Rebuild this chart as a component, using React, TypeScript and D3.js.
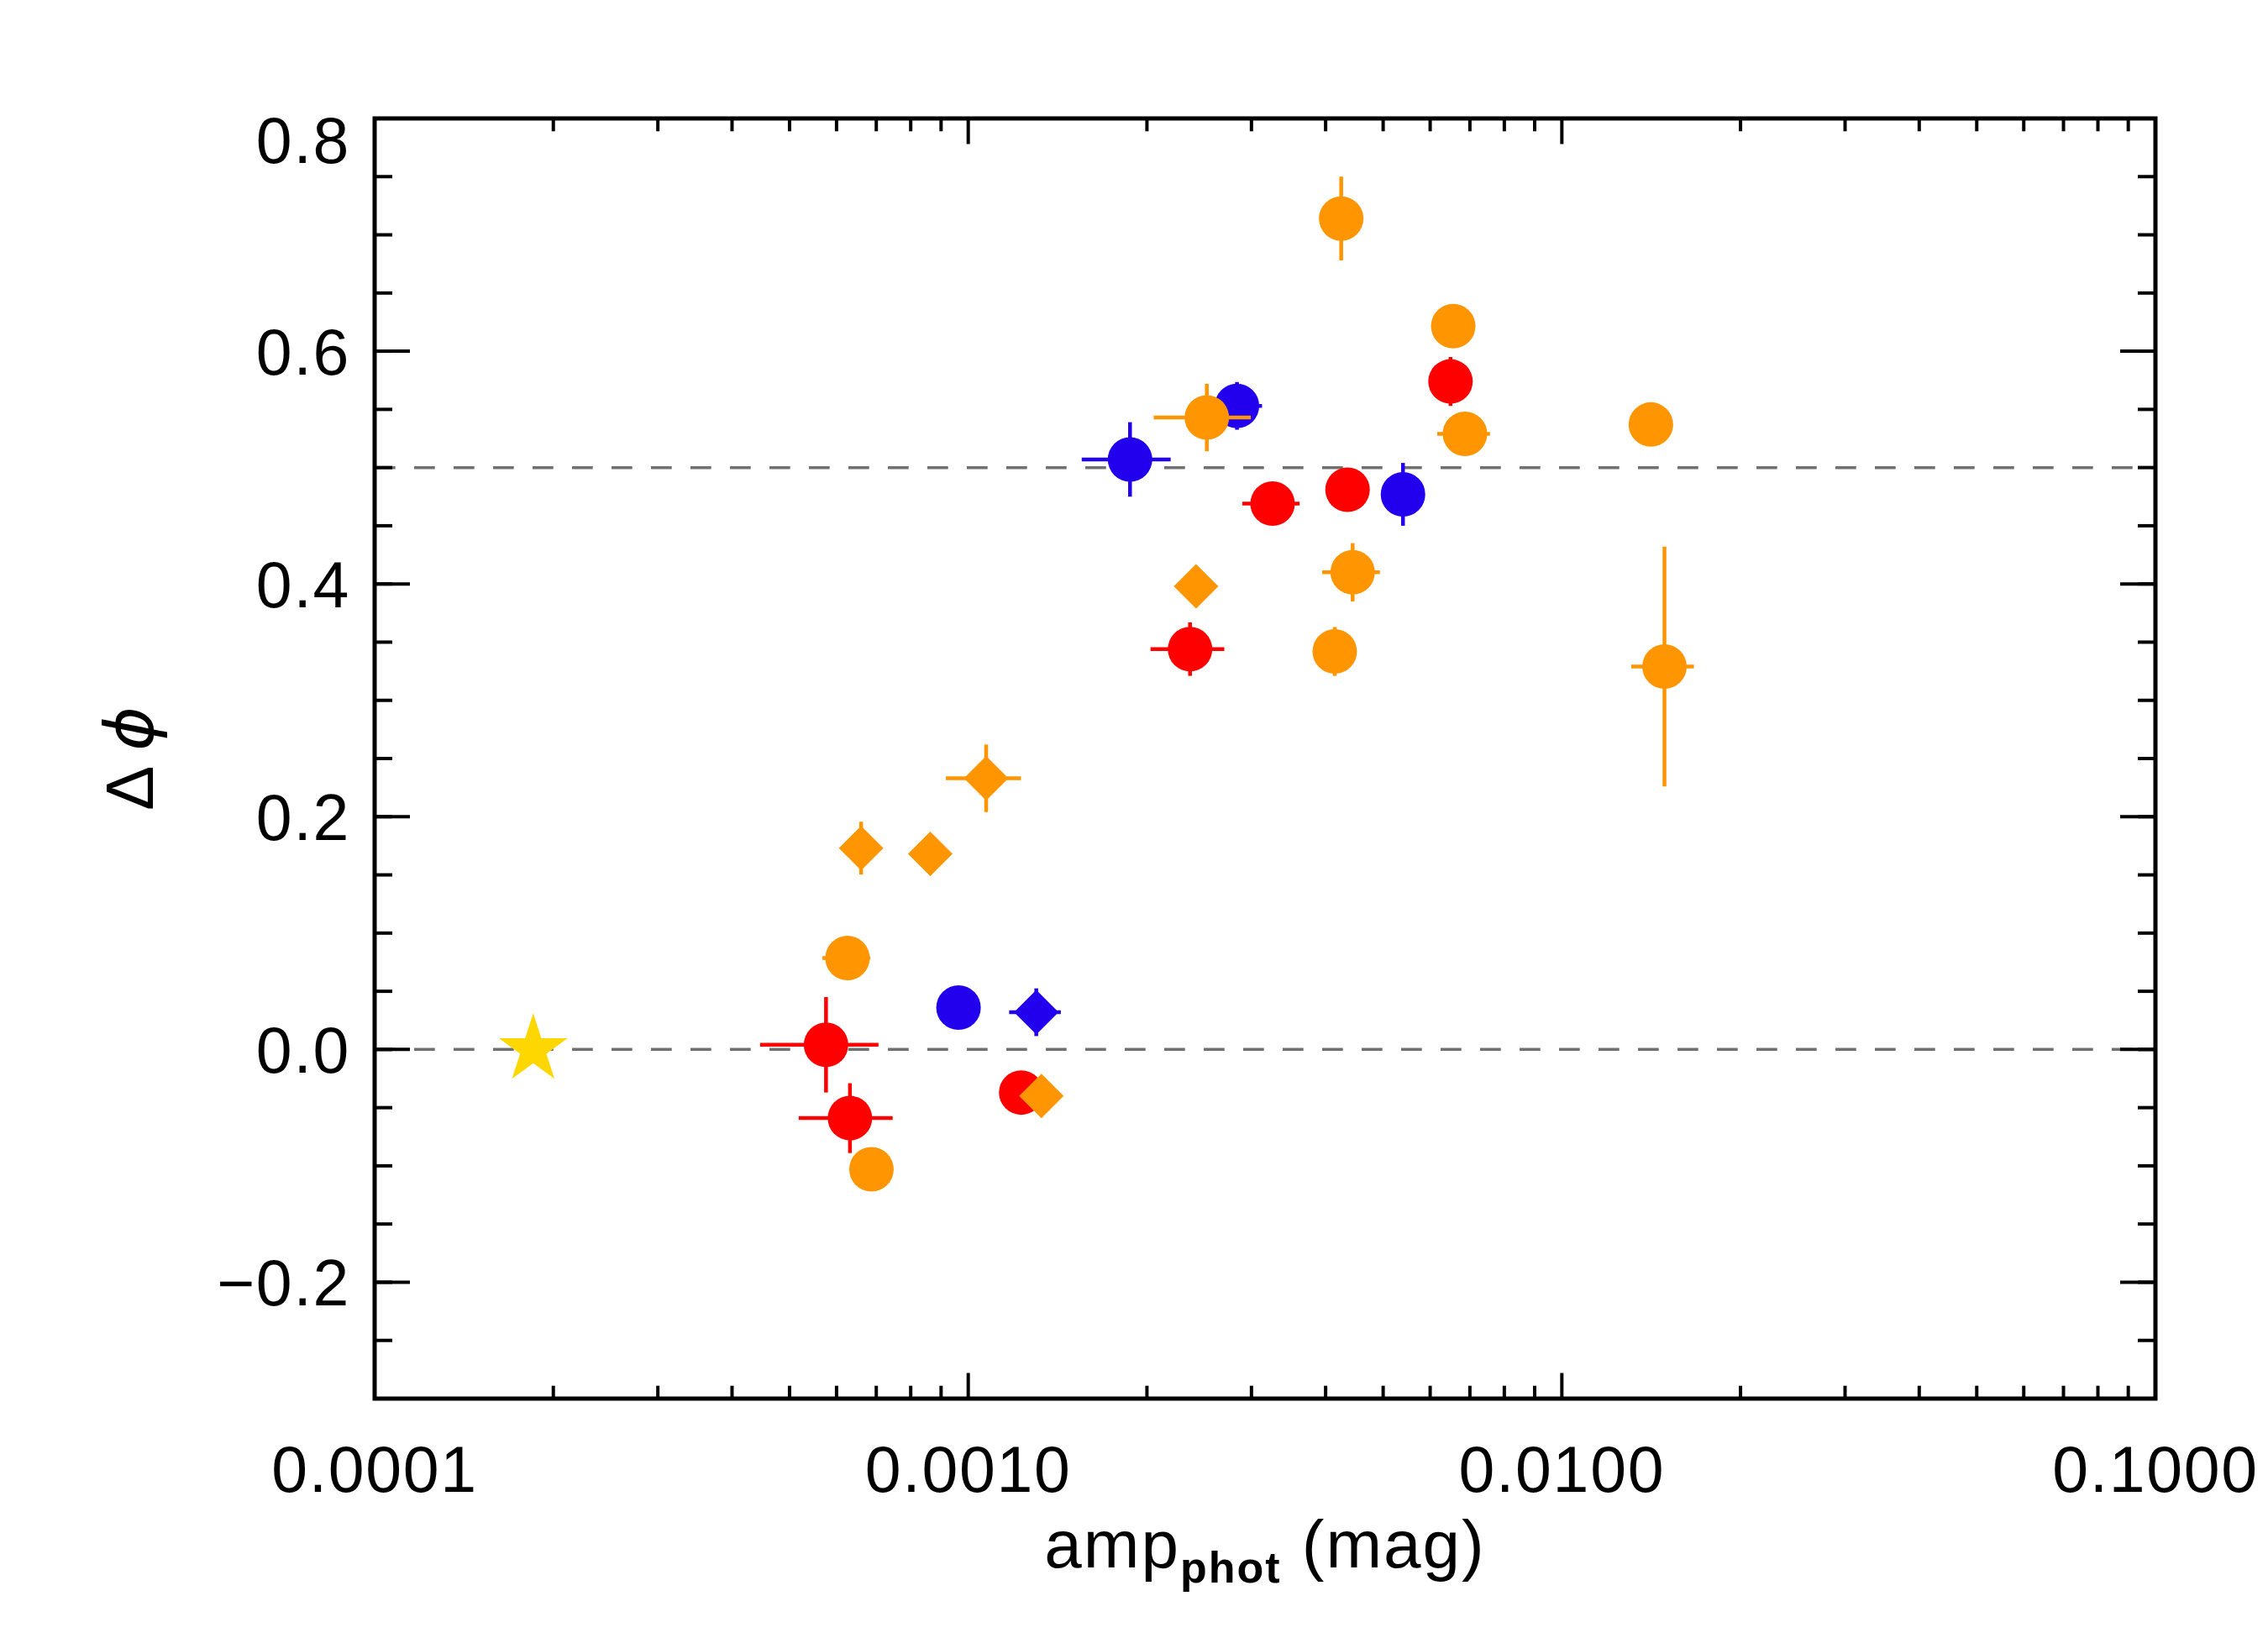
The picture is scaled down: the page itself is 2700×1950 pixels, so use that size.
import React from "react";
import * as d3 from "d3";

const W = 2700;
const H = 1950;
const PLOT = { left: 446, right: 2566, top: 141, bottom: 1665 };

const xDomain = [0.0001, 0.1];
const yDomain = [-0.3, 0.8];
const xTickValues = [0.0001, 0.001, 0.01, 0.1];
const xTickLabels = ["0.0001", "0.0010", "0.0100", "0.1000"];
const yTickValues = [-0.2, 0.0, 0.2, 0.4, 0.6, 0.8];
const yTickLabels = ["\u22120.2", "0.0", "0.2", "0.4", "0.6", "0.8"];
const refLines = [0.0, 0.5];

// each row: [x, y, xerr, yerr]
const redCircles = [
  [5.76e-4, 0.004, 1.3e-4, 0.041],
  [6.32e-4, -0.059, 1.14e-4, 0.03],
  [1.228e-3, -0.037, 0, 0],
  [2.364e-3, 0.344, 0.336e-3, 0.023],
  [3.256e-3, 0.469, 0.36e-3, 0.01],
  [4.355e-3, 0.481, 0, 0],
  [6.493e-3, 0.574, 0, 0.021],
];
const blueCircles = [
  [9.63e-4, 0.036, 0, 0],
  [1.873e-3, 0.507, 0.32e-3, 0.032],
  [2.836e-3, 0.553, 0.29e-3, 0.0205],
  [5.4e-3, 0.477, 0, 0.027],
];
const blueDiamonds = [[1.302e-3, 0.032, 0.13e-3, 0.0205]];
const orangeCircles = [
  [6.26e-4, 0.0785, 0.58e-4, 0],
  [6.87e-4, -0.103, 0, 0],
  [4.249e-3, 0.714, 0, 0.036],
  [6.562e-3, 0.6215, 0, 0],
  [6.867e-3, 0.529, 0.7e-3, 0],
  [2.523e-3, 0.543, 0.47e-3, 0.029],
  [4.442e-3, 0.41, 0.495e-3, 0.025],
  [4.144e-3, 0.342, 0, 0.021],
  [1.4125e-2, 0.537, 0, 0],
  [1.489e-2, 0.329, 1.8e-3, 0.103],
];
const orangeDiamonds = [
  [6.6e-4, 0.173, 0, 0.0227],
  [8.63e-4, 0.168, 0, 0],
  [1.072e-3, 0.233, 0.155e-3, 0.029],
  [2.42e-3, 0.398, 0, 0],
  [1.328e-3, -0.04, 0, 0],
];
const starPoints = [[1.85e-4, 0.0]];

const RED = "#ff0000";
const BLUE = "#2200ee";
const ORANGE = "#ff9500";
const GOLD = "#ffd700";

const FONT = "'Liberation Sans', Arial, sans-serif";

export default function App() {
  const x = d3.scaleLog().domain(xDomain).range([PLOT.left, PLOT.right]);
  const y = d3.scaleLinear().domain(yDomain).range([PLOT.bottom, PLOT.top]);

  const xMinor: number[] = [];
  for (let e = -4; e < -1; e++) {
    for (let m = 2; m <= 9; m++) xMinor.push(m * Math.pow(10, e));
  }
  const yMinor: number[] = d3.range(-0.3, 0.8001, 0.05).map((v) => +v.toFixed(3));

  const R = 26.5;
  const symbolCircle = d3.symbol().type(d3.symbolCircle).size(Math.PI * R * R);
  const diamondPath = (cx: number, cy: number, r: number) =>
    `M${cx},${cy - r}L${cx + r},${cy}L${cx},${cy + r}L${cx - r},${cy}Z`;
  const starPts = (cx: number, cy: number, ro: number) => {
    const ri = ro * 0.382;
    const pts: string[] = [];
    for (let i = 0; i < 10; i++) {
      const a = -Math.PI / 2 + (i * Math.PI) / 5;
      const rr = i % 2 === 0 ? ro : ri;
      pts.push(`${cx + rr * Math.cos(a)},${cy + rr * Math.sin(a)}`);
    }
    return "M" + pts.join("L") + "Z";
  };

  const errBars = (rows: number[][], color: string, key: string) =>
    rows.map((d, i) => {
      const [xv, yv, xe, ye] = d;
      const cx = x(xv);
      const cy = y(yv);
      return (
        <g key={key + i} stroke={color} strokeWidth={4.5}>
          {xe > 0 && <line x1={x(xv - xe)} x2={x(xv + xe)} y1={cy} y2={cy} />}
          {ye > 0 && <line x1={cx} x2={cx} y1={y(yv - ye)} y2={y(yv + ye)} />}
        </g>
      );
    });

  const circles = (rows: number[][], color: string, key: string) => (
    <g>
      {errBars(rows, color, key + "e")}
      {rows.map((d, i) => (
        <path key={key + i} d={symbolCircle() as string} transform={`translate(${x(d[0])},${y(d[1])})`} fill={color} />
      ))}
    </g>
  );
  const diamonds = (rows: number[][], color: string, key: string) => (
    <g>
      {errBars(rows, color, key + "e")}
      {rows.map((d, i) => (
        <path key={key + i} d={diamondPath(x(d[0]), y(d[1]), 26.5)} fill={color} />
      ))}
    </g>
  );

  const majLenY = 42;
  const minLenY = 21;
  const majLenX = 30.5;
  const minLenX = 15.3;

  return (
    <svg
      width={W}
      height={H}
      viewBox={`0 0 ${W} ${H}`}
      style={{ position: "absolute", left: 0, top: 0, background: "#fff" }}
    >
      <rect x={0} y={0} width={W} height={H} fill="#fff" />
      {refLines.map((v) => (
        <line
          key={"ref" + v}
          x1={PLOT.left}
          x2={PLOT.right}
          y1={y(v)}
          y2={y(v)}
          stroke="#707070"
          strokeWidth={3.5}
          strokeDasharray="24.7 22.3"
        />
      ))}

      {circles(redCircles, RED, "r")}
      {circles(blueCircles, BLUE, "b")}
      {diamonds(blueDiamonds, BLUE, "bd")}
      {circles(orangeCircles, ORANGE, "o")}
      {diamonds(orangeDiamonds, ORANGE, "od")}
      {starPoints.map((d, i) => (
        <path key={"s" + i} d={starPts(x(d[0]), y(d[1]), 43)} fill={GOLD} />
      ))}

      <rect
        x={PLOT.left}
        y={PLOT.top}
        width={PLOT.right - PLOT.left}
        height={PLOT.bottom - PLOT.top}
        fill="none"
        stroke="#000"
        strokeWidth={5}
      />
      <g stroke="#000" strokeWidth={4}>
        {xTickValues.map((v) => (
          <g key={"xt" + v}>
            <line x1={x(v)} x2={x(v)} y1={PLOT.bottom} y2={PLOT.bottom - majLenX} />
            <line x1={x(v)} x2={x(v)} y1={PLOT.top} y2={PLOT.top + majLenX} />
          </g>
        ))}
        {xMinor.map((v) => (
          <g key={"xm" + v}>
            <line x1={x(v)} x2={x(v)} y1={PLOT.bottom} y2={PLOT.bottom - minLenX} />
            <line x1={x(v)} x2={x(v)} y1={PLOT.top} y2={PLOT.top + minLenX} />
          </g>
        ))}
        {yTickValues.map((v) => (
          <g key={"yt" + v}>
            <line x1={PLOT.left} x2={PLOT.left + majLenY} y1={y(v)} y2={y(v)} />
            <line x1={PLOT.right} x2={PLOT.right - majLenY} y1={y(v)} y2={y(v)} />
          </g>
        ))}
        {yMinor.map((v) => (
          <g key={"ym" + v}>
            <line x1={PLOT.left} x2={PLOT.left + minLenY} y1={y(v)} y2={y(v)} />
            <line x1={PLOT.right} x2={PLOT.right - minLenY} y1={y(v)} y2={y(v)} />
          </g>
        ))}
      </g>

      <g fontFamily={FONT} fontSize={77} fill="#000" letterSpacing={1.7}>
        {xTickValues.map((v, i) => (
          <text key={"xl" + v} x={x(v)} y={1776} textAnchor="middle">
            {xTickLabels[i]}
          </text>
        ))}
        {yTickValues.map((v, i) => {
          const cy = Math.max(y(v), PLOT.top + 25);
          return (
            <text key={"yl" + v} x={417} y={cy + 27.5} textAnchor="end">
              {yTickLabels[i]}
            </text>
          );
        })}
      </g>

      <text
        x={(PLOT.left + PLOT.right) / 2}
        y={1866}
        textAnchor="middle"
        fontFamily={FONT}
        fontSize={80}
        letterSpacing={2}
        fill="#000"
      >
        amp
        <tspan fontSize={52} fontWeight="bold" dy={18}>phot</tspan>
        <tspan dy={-18}>{"\u00a0(mag)"}</tspan>
      </text>

      <text
        x={182}
        y={(PLOT.top + PLOT.bottom) / 2}
        transform={`rotate(-90, 182, ${(PLOT.top + PLOT.bottom) / 2})`}
        textAnchor="middle"
        fontFamily={FONT}
        fontSize={80}
        fill="#000"
      >
        {"\u0394 "}
        <tspan fontFamily="'DejaVu Sans', sans-serif" fontStyle="italic">{"\u03d5"}</tspan>
      </text>
    </svg>
  );
}
